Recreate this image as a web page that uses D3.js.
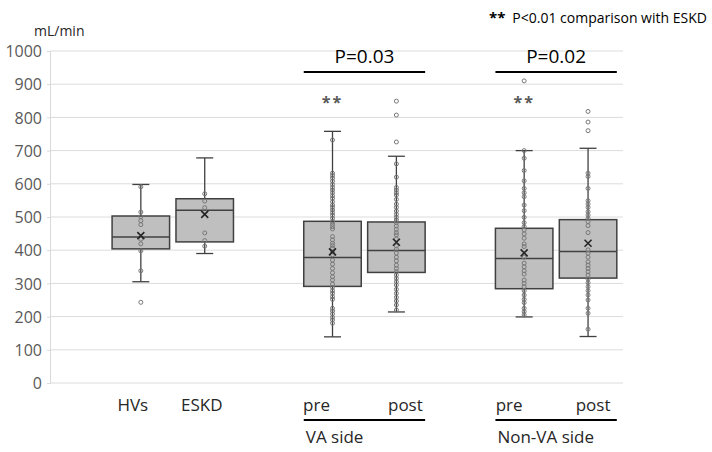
<!DOCTYPE html>
<html lang="en">
<head>
<meta charset="utf-8">
<title>Box plot</title>
<script src="https://cdnjs.cloudflare.com/ajax/libs/d3/7.8.5/d3.min.js"></script>
<style>
	body { margin: 0; background: #fff; }
	svg text { font-family: "Open Sans", sans-serif; }
	.grid line { stroke: #dcdcdc; stroke-width: 1; }
	.axis path, .axis line { stroke: #d9d9d9; }
	.axis text { fill: #595959; font-size: 16px; }
</style>
</head>
<body>
<div id="viz"></div>
<script>

// DATA
var slots = ["gap0", "HVs", "ESKD", "gap1", "VA pre", "VA post", "gap2", "Non-VA pre", "Non-VA post"];
var groups = ["HVs", "ESKD", "VA pre", "VA post", "Non-VA pre", "Non-VA post"];
var tickNames = ["HVs", "ESKD", "pre", "post", "pre", "post"];
var yTicks = [0, 100, 200, 300, 400, 500, 600, 700, 800, 900, 1000];

var whiskerLow  = [305, 390, 139, 214, 199, 140];
var q1          = [404, 425, 291, 333, 284, 316];
var median      = [440, 520, 378, 399, 375, 396];
var q3          = [503, 555, 487, 485, 466, 492];
var whiskerHigh = [598, 678, 758, 683, 700, 707];
var means       = [444, 508, 395, 424, 392, 421];

var ptsHVs = [591, 515, 501, 489, 477, 433, 419, 398, 338, 243];
var ptsESKD = [570, 548, 528, 517, 452, 429, 412];
var ptsVApre = [732, 632, 625, 617, 608, 598, 589, 581, 573, 564, 556, 546, 536, 529, 521, 513, 505, 496,
	486, 478, 471, 464, 441, 431, 421, 414, 406, 395, 386, 370, 358, 345, 332, 320, 310, 298, 288, 278,
	270, 260, 252, 225, 217, 208, 198, 190, 180];
var ptsVApost = [849, 807, 726, 660, 620, 589, 581, 573, 566, 553, 539, 529, 518, 508, 499, 491, 483, 473,
	463, 453, 446, 434, 413, 403, 391, 379, 368, 355, 345, 335, 325, 315, 305, 295, 282, 270, 258, 247, 235, 220];
var ptsNVApre = [910, 700, 677, 640, 609, 586, 573, 561, 536, 519, 499, 483, 471, 461, 449, 436, 419, 411,
	379, 361, 350, 338, 328, 310, 300, 290, 278, 265, 252, 242, 225, 215, 205];
var ptsNVApost = [818, 786, 760, 632, 622, 586, 549, 539, 529, 516, 506, 496, 486, 474, 453, 401, 391, 379,
	365, 355, 345, 335, 325, 313, 302, 290, 278, 265, 250, 225, 210, 162];
var allPoints = [ptsHVs, ptsESKD, ptsVApre, ptsVApost, ptsNVApre, ptsNVApost];

var sideNames = ["VA side", "Non-VA side"];
var sidePairs = [["VA pre", "VA post"], ["Non-VA pre", "Non-VA post"]];
var pLabels = ["P=0.03", "P=0.02"];
var starGroups = ["VA pre", "Non-VA pre"];
var starValue = 849;

(function(d3) {

	// Dimensions
	var w = 712,
		h = 452;

	var svg = d3.select("#viz")
		.append("svg")
		.attr("width", w)
		.attr("height", h);

	// SCALES
	var x = d3.scaleBand().domain(slots).range([45, 620]);
	var y = d3.scaleLinear().domain([0, 1000]).range([383, 51]);
	var boxW = x.bandwidth() * 0.9;
	var cx = function(g) { return x(g) + x.bandwidth() / 2; };

	// GRID
	svg.append("g").attr("class", "grid")
		.selectAll("line")
		.data(yTicks)
		.enter()
		.append("line")
		.attr("x1", 50).attr("x2", 623)
		.attr("y1", function(d) { return y(d); })
		.attr("y2", function(d) { return y(d); });

	// Y AXIS
	var yAxis = svg.append("g").attr("class", "axis")
		.attr("transform", "translate(50,0)")
		.call(d3.axisLeft(y).tickValues(yTicks).tickFormat(d3.format("d")).tickSize(3).tickPadding(5));
	yAxis.selectAll("text").attr("dy", "0.35em");

	svg.append("text")
		.attr("x", 34).attr("y", 36)
		.attr("fill", "#262626")
		.style("font-size", "14px")
		.text("mL/min");

	// BOXES
	var box = svg.selectAll("g.box")
		.data(groups)
		.enter()
		.append("g")
		.attr("class", "box");

	// whiskers
	box.append("line")
		.attr("x1", cx).attr("x2", cx)
		.attr("y1", function(d, i) { return y(whiskerLow[i]); })
		.attr("y2", function(d, i) { return y(whiskerHigh[i]); })
		.attr("stroke", "#404040").attr("stroke-width", 1.3);

	[whiskerLow, whiskerHigh].forEach(function(arr) {
		box.append("line")
			.attr("x1", function(d) { return cx(d) - 8.5; })
			.attr("x2", function(d) { return cx(d) + 8.5; })
			.attr("y1", function(d, i) { return y(arr[i]); })
			.attr("y2", function(d, i) { return y(arr[i]); })
			.attr("stroke", "#404040").attr("stroke-width", 1.3);
	});

	box.append("rect")
		.attr("x", function(d) { return cx(d) - boxW / 2; })
		.attr("width", boxW)
		.attr("y", function(d, i) { return y(q3[i]); })
		.attr("height", function(d, i) { return y(q1[i]) - y(q3[i]); })
		.attr("fill", "#bfbfbf")
		.attr("stroke", "#404040")
		.attr("stroke-width", 1.5);

	box.append("line")
		.attr("x1", function(d) { return cx(d) - boxW / 2; })
		.attr("x2", function(d) { return cx(d) + boxW / 2; })
		.attr("y1", function(d, i) { return y(median[i]); })
		.attr("y2", function(d, i) { return y(median[i]); })
		.attr("stroke", "#404040").attr("stroke-width", 1.5);

	// inner points and outliers
	box.each(function(g, i) {
		d3.select(this).selectAll("circle")
			.data(allPoints[i])
			.enter()
			.append("circle")
			.attr("cx", cx(g))
			.attr("cy", function(v) { return y(v); })
			.attr("r", 2)
			.attr("fill", "none")
			.attr("stroke", "#777")
			.attr("stroke-width", 1);
	});

	// mean marker
	box.append("path")
		.attr("d", function(d, i) {
			var px = cx(d), py = y(means[i]), s = 3.5;
			return "M" + (px - s) + "," + (py - s) + "L" + (px + s) + "," + (py + s) +
				"M" + (px - s) + "," + (py + s) + "L" + (px + s) + "," + (py - s);
		})
		.attr("stroke", "#262626").attr("stroke-width", 1.6);

	// CATEGORY LABELS
	var labelShift = [-8, -3, -16, 9, -15, 5];
	svg.selectAll("text.cat")
		.data(groups)
		.enter()
		.append("text")
		.attr("class", "cat")
		.attr("x", function(d, i) { return cx(d) + labelShift[i]; })
		.attr("y", 411)
		.attr("text-anchor", "middle")
		.attr("fill", "#262626")
		.style("font-size", "17px")
		.text(function(d, i) { return tickNames[i]; });

	// SIDE BRACKETS (below) and P VALUES (above)
	sidePairs.forEach(function(pair, i) {
		var x0 = cx(pair[0]) - boxW / 2,
			x1 = cx(pair[1]) + boxW / 2;

		svg.append("line")
			.attr("x1", x0).attr("x2", x1)
			.attr("y1", 420).attr("y2", 420)
			.attr("stroke", "#000").attr("stroke-width", 2.2);
		svg.append("text")
			.attr("x", x0 + 2).attr("y", 443)
			.attr("fill", "#262626")
			.style("font-size", "17px")
			.text(sideNames[i]);

		svg.append("line")
			.attr("x1", x0).attr("x2", x1)
			.attr("y1", 72).attr("y2", 72)
			.attr("stroke", "#000").attr("stroke-width", 2.2);
		svg.append("text")
			.attr("x", (x0 + x1) / 2).attr("y", 63)
			.attr("text-anchor", "middle")
			.attr("fill", "#000")
			.style("font-size", "19px")
			.text(pLabels[i]);
	});

	// STARS
	svg.selectAll("text.star")
		.data(starGroups)
		.enter()
		.append("text")
		.attr("class", "star")
		.attr("x", cx)
		.attr("y", y(starValue) + 7)
		.attr("text-anchor", "middle")
		.attr("fill", "#595959")
		.style("font-size", "16px")
		.style("font-weight", "bold")
		.style("letter-spacing", "2px")
		.text("**");

	// NOTE
	var note = svg.append("text")
		.attr("x", 489).attr("y", 23)
		.attr("fill", "#000")
		.style("font-size", "14px");
	note.append("tspan").style("font-weight", "bold").style("font-size", "15px").text("**");
	note.append("tspan").attr("dx", 7).text("P<0.01 comparison with ESKD");

})(d3);

</script>
</body>
</html>
